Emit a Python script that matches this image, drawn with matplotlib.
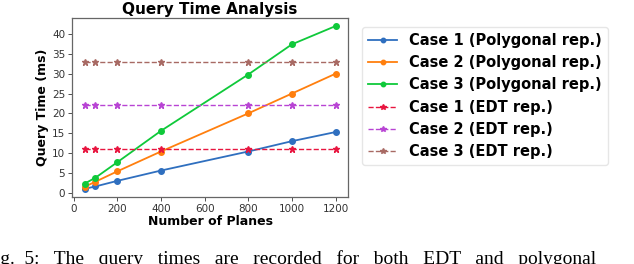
import matplotlib.pyplot as plt

planes = [50, 100, 200, 400, 800, 1000, 1200]
poly_case1 = [1.0, 1.6, 3.0, 5.6, 10.4, 13.0, 15.3]
poly_case2 = [1.5, 2.8, 5.4, 10.4, 20.0, 25.0, 30.0]
poly_case3 = [2.3, 3.8, 7.7, 15.6, 29.8, 37.4, 42.0]
edt_case1 = [11.1] * len(planes)
edt_case2 = [22.1] * len(planes)
edt_case3 = [32.9] * len(planes)

poly_labels = ["Case 1 (Polygonal rep.)", "Case 2 (Polygonal rep.)", "Case 3 (Polygonal rep.)"]
edt_labels = ["Case 1 (EDT rep.)", "Case 2 (EDT rep.)", "Case 3 (EDT rep.)"]
poly_colors = ["#2f6fbf", "#ff7f0e", "#0fc93a"]
edt_colors = ["#e8153f", "#b844d4", "#a86a64"]

caption = "Fig.  5:   The   query   times   are   recorded   for   both   EDT   and   polygonal"

fig = plt.figure(figsize=(6.34, 2.64), dpi=100)
ax = fig.add_axes([0.1136, 0.254, 0.4354, 0.678])

for ys, lab, col in zip([poly_case1, poly_case2, poly_case3], poly_labels, poly_colors):
    ax.plot(planes, ys, color=col, marker="o", markersize=4, linewidth=1.3, label=lab)
for ys, lab, col in zip([edt_case1, edt_case2, edt_case3], edt_labels, edt_colors):
    ax.plot(planes, ys, color=col, marker="*", markersize=5, linewidth=1.0,
            linestyle="--", label=lab)

ax.set_title("Query Time Analysis", fontsize=11, fontweight="bold", pad=3)
ax.set_xlabel("Number of Planes", fontsize=9, fontweight="bold", labelpad=1)
ax.set_ylabel("Query Time (ms)", fontsize=9, fontweight="bold", labelpad=2)
ax.set_yticks(range(0, 41, 5))
ax.set_xticks(range(0, 1201, 200))
ax.tick_params(labelsize=7.5, length=3, width=0.6, pad=2, colors="#333333")
for s in ax.spines.values():
    s.set_color("#666666")
    s.set_linewidth(0.9)

leg = ax.legend(loc="upper left", bbox_to_anchor=(1.025, 0.99), prop={"weight": "bold", "size": 10.5},
                handlelength=2.0, handletextpad=0.8, labelspacing=0.5, borderpad=0.4,
                markerscale=0.8, frameon=True)
leg.get_frame().set_edgecolor("#e0e0e0")

fig.text(-0.025, -0.015, caption, fontsize=14, family="Liberation Serif",
         ha="left", va="bottom")

fig.savefig("out.png", dpi=100)
